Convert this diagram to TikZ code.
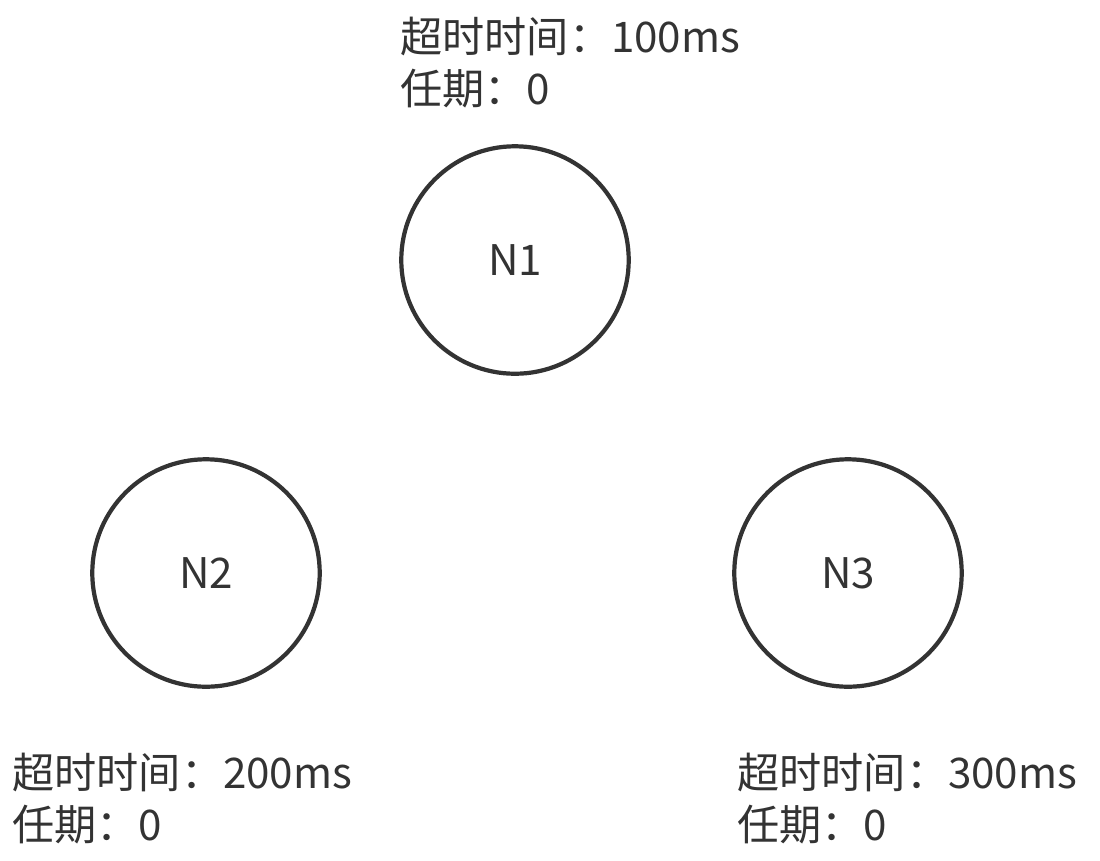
\documentclass[tikz,border=0pt]{standalone}
\usepackage{fontspec}
\setmainfont{Noto Sans CJK SC}
\usepackage{xcolor}
\usetikzlibrary{positioning}
\definecolor{inkgray}{HTML}{333333}

\begin{document}
\begin{tikzpicture}[
    x=0.02cm, y=-0.02cm,
    peer/.style={draw=inkgray, circle, line width=2.4pt, minimum size=4.55cm,
      inner sep=0pt, text=inkgray, font=\fontsize{24}{28}\selectfont},
    info/.style={anchor=base west, inner sep=0pt, text=inkgray,
      font=\fontsize{24}{30}\selectfont}
]
\useasboundingbox (0,0) rectangle (1100,860);
% three nodes
\node[peer] (n1) at (515,260) {N1};
\node[peer] (n2) at (206,573) {N2};
\node[peer] (n3) at (848,573) {N3};
% timeout and term labels
\node[info] (t1a) at (400,52)  {超时时间：100ms};
\node[info] (t1b) at (400,104) {任期：0};
\node[info] (t2a) at (12,788)  {超时时间：200ms};
\node[info] (t2b) at (12,840)  {任期：0};
\node[info] (t3a) at (737,788) {超时时间：300ms};
\node[info] (t3b) at (737,840) {任期：0};
\end{tikzpicture}
\end{document}
